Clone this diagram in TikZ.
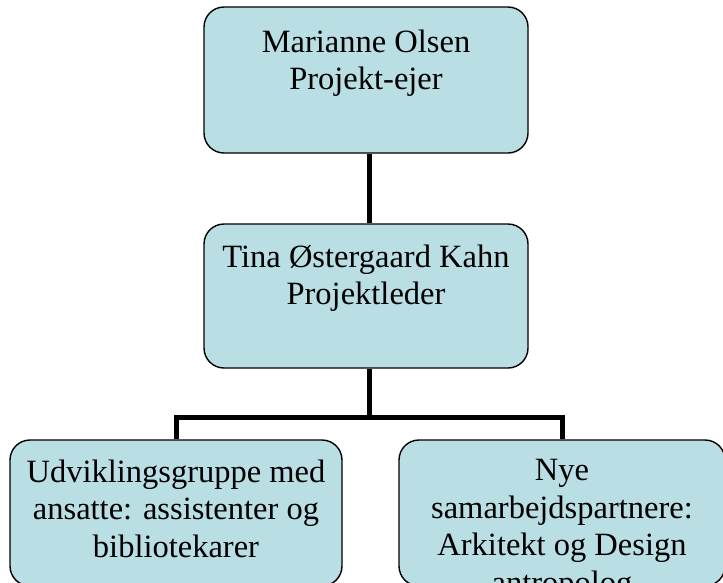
\documentclass[tikz,border=0pt]{standalone}
\usepackage{fontspec}
\setmainfont{Liberation Serif}
\definecolor{boxfill}{RGB}{185,222,228}
\begin{document}
\begin{tikzpicture}[x=1pt,y=-1pt,
  orgbox/.style={draw=black,line width=1.4pt,fill=boxfill,rounded corners=20pt,inner sep=0pt},
  orgtext/.style={anchor=north,inner sep=0pt,align=center,font=\fontsize{32.5}{37.5}\selectfont},
  link/.style={line width=5pt,draw=black}]
\useasboundingbox (0,0) rectangle (723,582);
\clip (0,0) rectangle (723,582);
\fill[white] (0,0) rectangle (723,582);
% boxes
\node[orgbox,minimum width=324pt,minimum height=146pt] (owner) at (366,80) {};
\node[orgbox,minimum width=324pt,minimum height=144pt] (lead) at (366,296) {};
\node[orgbox,minimum width=332pt,minimum height=146pt] (dev) at (176,513) {};
\node[orgbox,minimum width=326pt,minimum height=146pt] (partner) at (562,513) {};
% connectors
\coordinate (j) at (369,417);
\draw[link] (owner.south -| j) -- (lead.north -| j);
\draw[link] (lead.south -| j) -- (j);
\draw[link] (dev.north) -- (dev.north |- j) -- (partner.north |- j) -- (partner.north);
% texts
\node[orgtext] (ownertxt) at ([yshift=-23pt]owner.north) {Marianne Olsen\\Projekt-ejer};
\node[orgtext] (leadtxt) at ([yshift=-21pt]lead.north) {Tina Østergaard Kahn\\Projektleder};
\node[orgtext] (devtxt) at ([yshift=-20pt]dev.north) {Udviklingsgruppe med\\ansatte: assistenter og\\bibliotekarer};
\node[orgtext] (partnertxt) at ([yshift=-20pt]partner.north) {Nye\\samarbejdspartnere:\\Arkitekt og Design\\antropolog};
\end{tikzpicture}
\end{document}
